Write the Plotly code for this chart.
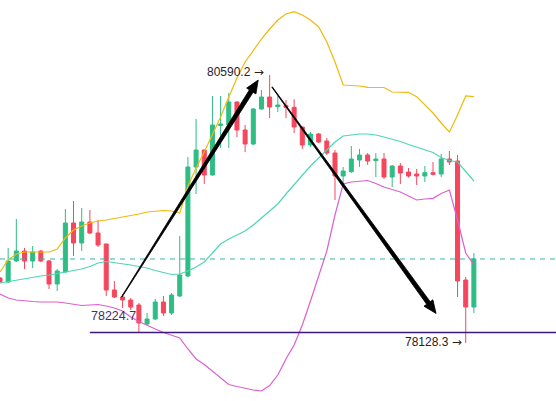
import plotly.graph_objects as go

# candle data (index = bar number, prices)
open_ = [78725.5, 78688.7, 78881.7, 78973.5, 78881.7, 78973.5, 78881.7, 78670.4, 78780.6, 79230.7,
         79047.0, 79239.9, 79138.9, 79037.8, 78615.3, 78551.0, 78523.4, 78477.5, 78302.9, 78348.9,
         78505.0, 78404.0, 78560.1, 78743.9, 79745.1, 79901.3, 79671.6, 80126.3, 80130.9, 80342.2,
         80085.0, 79956.4, 80277.9, 80388.2, 80299.1, 80308.2, 80293.5, 80112.6, 79947.2, 80048.3,
         79984.0, 79873.7, 79662.5, 79702.0, 79809.4, 79855.4, 79803.0, 79818.6, 79653.3, 79754.3,
         79699.2, 79680.8, 79662.5, 79692.8, 79680.8, 79818.6, 79800.3, 78707.1, 78459.1]
high = [78734.7, 79001.1, 79267.5, 79001.1, 79019.4, 78982.7, 78890.8, 78808.2, 79359.3, 79432.8,
        79368.5, 79350.1, 79258.3, 79042.0, 78697.9, 78578.5, 78541.8, 78495.8, 78404.0, 78532.6,
        78560.1, 78587.7, 79111.3, 79837.0, 80186.1, 79906.0, 80397.3, 80397.3, 80424.9, 80346.8,
        80130.9, 80287.1, 80452.5, 80590.2, 80397.3, 80360.6, 80367.0, 80115.0, 80066.6, 80057.5,
        80011.5, 79901.3, 79745.1, 79938.0, 79910.5, 79873.7, 79873.7, 79873.7, 79763.5, 79781.9,
        79736.0, 79726.8, 79754.3, 79791.1, 79864.6, 79892.1, 79855.4, 78734.7, 78955.1]
low = [78679.6, 78679.6, 78872.5, 78808.2, 78817.4, 78870.0, 78624.4, 78606.1, 78776.0, 78927.6,
       78973.5, 79129.7, 79010.3, 78560.1, 78541.8, 78449.9, 78431.5, 78224.7, 78293.7, 78339.7,
       78376.4, 78385.6, 78551.0, 78734.7, 79497.1, 79589.0, 79667.0, 79919.7, 79919.7, 80020.7,
       79882.9, 79947.2, 80273.0, 80195.3, 80250.4, 80195.3, 80057.5, 79910.5, 79928.9, 79965.6,
       79855.4, 79442.0, 79598.2, 79690.0, 79745.1, 79763.5, 79653.3, 79634.9, 79561.4, 79589.0,
       79648.0, 79579.8, 79607.3, 79667.0, 79653.3, 79763.5, 78551.0, 78128.3, 78404.0]
close = [78688.7, 78881.7, 78973.5, 78881.7, 78964.3, 78881.7, 78670.4, 78789.8, 79230.7, 79047.0,
         79239.9, 79138.9, 79028.6, 78615.3, 78551.0, 78523.4, 78459.1, 78312.1, 78348.9, 78505.0,
         78404.0, 78569.3, 78753.0, 79745.1, 79901.3, 79671.6, 80130.9, 80140.1, 80342.2, 80085.0,
         79956.4, 80277.9, 80388.2, 80296.3, 80314.7, 80293.5, 80112.6, 79947.2, 80048.3, 79974.8,
         79873.7, 79662.5, 79708.4, 79818.6, 79855.4, 79800.3, 79818.6, 79653.3, 79754.3, 79690.0,
         79662.5, 79662.5, 79692.8, 79678.1, 79818.6, 79791.1, 78697.9, 78459.1, 78900.0]

# bollinger bands
boll_up = [78780.6, 78890.8, 78946.0, 78964.3, 78964.3, 78964.3, 78964.3, 78991.9, 79092.9, 79166.4,
           79203.2, 79230.7, 79249.1, 79258.3, 79272.1, 79281.3, 79295.0, 79313.4, 79331.8, 79341.0,
           79345.5, 79341.0, 79322.6, 79570.6, 79736.0, 79882.9, 80039.1, 80204.4, 80388.2, 80562.7,
           80709.7, 80819.9, 80920.9, 81012.8, 81095.5, 81150.6, 81171.7, 81141.4, 81095.5, 81031.2,
           80893.4, 80709.7, 80498.4, 80493.8, 80489.2, 80477.3, 80477.3, 80475.4, 80434.1, 80431.3,
           80431.3, 80390.9, 80314.7, 80241.2, 80149.3, 80066.6, 80222.8, 80397.3, 80390.9]
boll_mid = [78679.6, 78693.3, 78707.1, 78720.9, 78734.7, 78743.9, 78753.0, 78766.8, 78780.6, 78794.4,
            78808.2, 78831.1, 78863.3, 78877.1, 78867.9, 78858.7, 78844.9, 78831.1, 78817.4, 78794.4,
            78776.0, 78757.6, 78762.2, 78789.8, 78826.5, 78872.5, 78955.1, 79037.8, 79083.7, 79120.5,
            79157.2, 79212.3, 79276.7, 79341.0, 79405.3, 79497.1, 79584.4, 79671.6, 79754.3, 79827.8,
            79901.3, 79974.8, 80029.9, 80039.1, 80048.3, 80048.3, 80039.1, 80020.7, 80002.3, 79979.4,
            79951.8, 79928.9, 79905.9, 79878.3, 79832.4, 79804.8, 79791.1, 79699.2, 79616.5]
boll_dn = [78578.5, 78541.8, 78523.4, 78514.2, 78509.6, 78505.0, 78505.0, 78505.0, 78495.8, 78486.7,
           78472.9, 78477.5, 78482.1, 78468.3, 78449.9, 78422.4, 78367.2, 78325.9, 78289.2, 78257.0,
           78224.9, 78201.9, 78174.3, 78073.3, 77981.4, 77930.9, 77871.2, 77806.9, 77747.2, 77728.8,
           77710.4, 77696.7, 77687.5, 77738.0, 77834.4, 77981.4, 78110.0, 78293.7, 78514.2, 78734.7,
           78973.5, 79304.2, 79589.0, 79607.3, 79616.5, 79621.1, 79593.6, 79561.4, 79538.5, 79515.5,
           79478.7, 79442.0, 79451.2, 79457.6, 79501.7, 79533.9, 79258.3, 78955.1, 78844.9]

x = list(range(len(close)))

W, H = 556, 401
X_RANGE = [0, 68.05]
Y_RANGE = [77595.6, 81279.2]

hi_idx, hi_val = 33, 80590.2
lo_idx, lo_val = 57, 78128.3
swing_low = 78224.7
last_price = close[-1]

# hand drawn arrows (bar index, price)
arrows = [((14.9, 78551.0), (31.6, 80544.0)),
          ((33.3, 80480.0), (53.37, 78399.4))]

GREEN = "#2ebd85"
RED = "#f6465d"


def to_px(xv, yv):
    px = (xv - X_RANGE[0]) / (X_RANGE[1] - X_RANGE[0]) * W
    py = (Y_RANGE[1] - yv) / (Y_RANGE[1] - Y_RANGE[0]) * H
    return px, py


def to_data(px, py):
    xv = X_RANGE[0] + px / W * (X_RANGE[1] - X_RANGE[0])
    yv = Y_RANGE[1] - py / H * (Y_RANGE[1] - Y_RANGE[0])
    return xv, yv


def arrow_path(p0, p1, w0=0.3, w1=2.2, head_len=13, head_w=5.5):
    x0, y0 = to_px(*p0)
    x1, y1 = to_px(*p1)
    dx, dy = x1 - x0, y1 - y0
    ln = (dx ** 2 + dy ** 2) ** 0.5
    ux, uy = dx / ln, dy / ln
    nx, ny = -uy, ux
    bx, by = x1 - ux * head_len, y1 - uy * head_len
    pts = [(x0 + nx * w0, y0 + ny * w0), (bx + nx * w1, by + ny * w1),
           (bx + nx * head_w, by + ny * head_w), (x1, y1),
           (bx - nx * head_w, by - ny * head_w), (bx - nx * w1, by - ny * w1),
           (x0 - nx * w0, y0 - ny * w0)]
    pts = [to_data(*p) for p in pts]
    return "M " + " L ".join(f"{a},{b}" for a, b in pts) + " Z"


fig = go.Figure()
fig.add_trace(go.Scatter(x=x, y=boll_up, mode="lines", line=dict(color="#f0b90b", width=1.2), hoverinfo="skip"))
fig.add_trace(go.Scatter(x=x, y=boll_mid, mode="lines", line=dict(color="#4fd6b5", width=1.2), hoverinfo="skip"))
fig.add_trace(go.Scatter(x=x, y=boll_dn, mode="lines", line=dict(color="#dd5fd0", width=1.2), hoverinfo="skip"))
fig.add_trace(go.Candlestick(x=x, open=open_, high=high, low=low, close=close,
                             increasing=dict(line=dict(color=GREEN, width=1), fillcolor=GREEN),
                             decreasing=dict(line=dict(color=RED, width=1), fillcolor=RED)))

fig.add_shape(type="line", xref="paper", x0=0, x1=1, yref="y", y0=last_price, y1=last_price,
              line=dict(color="#34b79a", width=1, dash="5px,5px"))
fig.add_shape(type="line", xref="x", x0=11, x1=X_RANGE[1], yref="y", y0=swing_low, y1=swing_low,
              line=dict(color="#3d1a78", width=1.3))

for p0, p1 in arrows:
    fig.add_shape(type="path", path=arrow_path(p0, p1), xref="x", yref="y",
                  fillcolor="#000000", line=dict(color="#000000", width=0.8))

arr = "<span style='font-family:DejaVu Sans;font-size:12px'>\u2192</span>"
fig.add_annotation(x=hi_idx - 0.45, y=hi_val, text=f"{hi_val} {arr}", showarrow=False,
                   xanchor="right", yanchor="middle", yshift=3,
                   font=dict(family="Liberation Sans, Arial", size=12, color="#1e2329"))
fig.add_annotation(x=lo_idx - 0.2, y=lo_val, text=f"{lo_val} {arr}", showarrow=False,
                   xanchor="right", yanchor="middle", yshift=1,
                   font=dict(family="Liberation Sans, Arial", size=12, color="#1e2329"))
fig.add_annotation(x=10.95, y=swing_low, text=f"{swing_low}", showarrow=False,
                   xanchor="left", yanchor="middle", yshift=17,
                   font=dict(family="Liberation Sans, Arial", size=12.5, color="#38336e"))

fig.update_xaxes(range=X_RANGE, visible=False, showgrid=False, rangeslider_visible=False)
fig.update_yaxes(range=Y_RANGE, visible=False, showgrid=False)
fig.update_layout(width=W, height=H, margin=dict(l=0, r=0, t=0, b=0), showlegend=False,
                  plot_bgcolor="white", paper_bgcolor="white", dragmode=False)

fig.write_html("out.html", config={"displayModeBar": False},
               post_script="document.body.style.margin='0';")
